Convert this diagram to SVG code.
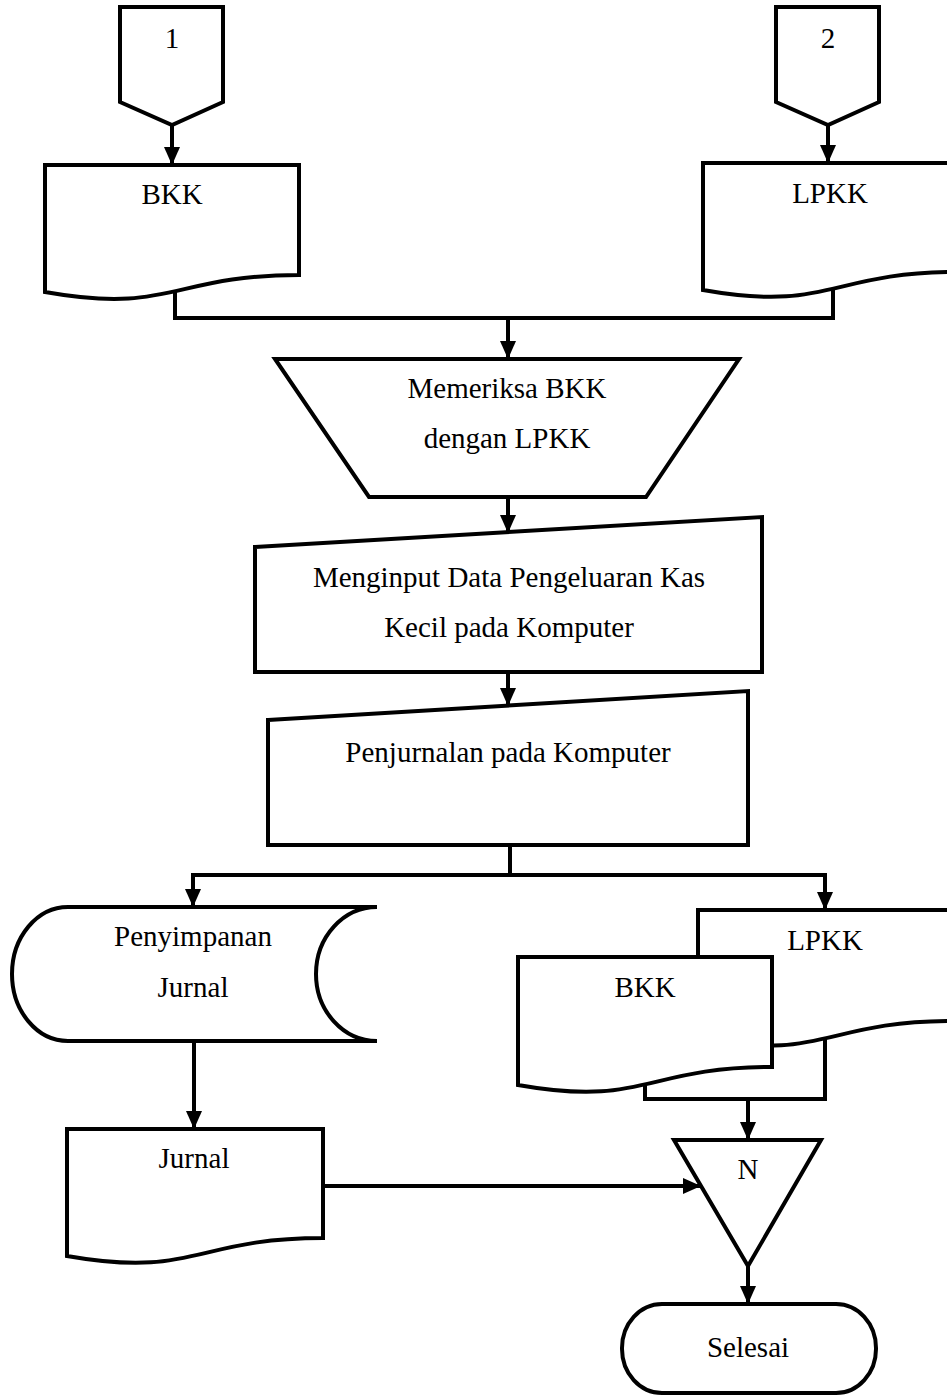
<svg xmlns="http://www.w3.org/2000/svg" width="947" height="1395" viewBox="0 0 947 1395">
  <style>
    .shape { fill: #ffffff; stroke: #000000; stroke-width: 4; stroke-linejoin: miter; }
    .line { fill: none; stroke: #000000; stroke-width: 4; }
    .label { font-family: "Liberation Serif", "Times New Roman", serif; font-size: 29px; fill: #000000; text-anchor: middle; }
  </style>
  <defs>
    <marker id="arrow" viewBox="0 0 18 16" refX="18" refY="8" markerWidth="18" markerHeight="16" markerUnits="userSpaceOnUse" orient="auto">
      <path d="M0,0 L18,8 L0,16 Z" fill="#000000"/>
    </marker>
  </defs>
  <rect width="947" height="1395" fill="#ffffff"/>

  <!-- connectors -->
  <g id="connectors">
    <path class="line" d="M172,125 V165" marker-end="url(#arrow)"/>
    <path class="line" d="M828,125 V163" marker-end="url(#arrow)"/>
    <path class="line" d="M175,290 V318 H833 V288"/>
    <path class="line" d="M508,318 V359" marker-end="url(#arrow)"/>
    <path class="line" d="M508,497 V533" marker-end="url(#arrow)"/>
    <path class="line" d="M508,672 V706" marker-end="url(#arrow)"/>
    <path class="line" d="M510,845 V875 H193 V907" marker-end="url(#arrow)"/>
    <path class="line" d="M508,875 H825 V910" marker-end="url(#arrow)"/>
    <path class="line" d="M194,1041 V1129" marker-end="url(#arrow)"/>
    <path class="line" d="M645,1084 V1099 H825 V1038"/>
    <path class="line" d="M748,1099 V1140" marker-end="url(#arrow)"/>
    <path class="line" d="M323,1186 H701" marker-end="url(#arrow)"/>
    <path class="line" d="M748,1266 V1304" marker-end="url(#arrow)"/>
  </g>

  <!-- off-page connector 1 -->
  <g id="offpage-1">
    <polygon class="shape" points="120,7 223,7 223,102 172,125 120,102"/>
    <text class="label" x="172" y="48">1</text>
  </g>

  <!-- off-page connector 2 -->
  <g id="offpage-2">
    <polygon class="shape" points="776,7 879,7 879,102 828,125 776,102"/>
    <text class="label" x="828" y="48">2</text>
  </g>

  <!-- document BKK (input) -->
  <g id="doc-bkk-in">
    <path class="shape" d="M45,165 H299 V275 C172,275 172,314.6 45,292 Z"/>
    <text class="label" x="172" y="204">BKK</text>
  </g>

  <!-- document LPKK (input) -->
  <g id="doc-lpkk-in">
    <path class="shape" d="M703,163 H957 V272 C830,272 830,312.6 703,290 Z"/>
    <text class="label" x="830" y="203">LPKK</text>
  </g>

  <!-- manual operation -->
  <g id="check">
    <polygon class="shape" points="275,359 739,359 646,497 369,497"/>
    <text class="label" x="507" y="398">Memeriksa BKK</text>
    <text class="label" x="507" y="448">dengan LPKK</text>
  </g>

  <!-- manual input: data entry -->
  <g id="input-data">
    <polygon class="shape" points="255,547 762,517 762,672 255,672"/>
    <text class="label" x="509" y="587">Menginput Data Pengeluaran Kas</text>
    <text class="label" x="509" y="637">Kecil pada Komputer</text>
  </g>

  <!-- manual input: journal entry -->
  <g id="input-journal">
    <polygon class="shape" points="268,720 748,691 748,845 268,845"/>
    <text class="label" x="508" y="762">Penjurnalan pada Komputer</text>
  </g>

  <!-- stored data -->
  <g id="storage">
    <path class="shape" d="M377,907 H68 A56,67 0 0 0 68,1041 H377 A61,67 0 0 1 377,907 Z"/>
    <text class="label" x="193" y="946">Penyimpanan</text>
    <text class="label" x="193" y="997">Jurnal</text>
  </g>

  <!-- multiple documents: LPKK behind BKK -->
  <g id="docs-out">
    <path class="shape" d="M698,910 H952 V1021 C825,1021 825,1061.6 698,1039 Z"/>
    <text class="label" x="825" y="950">LPKK</text>
    <path class="shape" d="M518,957 H772 V1067 C645,1067 645,1107.6 518,1085 Z"/>
    <text class="label" x="645" y="997">BKK</text>
  </g>

  <!-- document Jurnal -->
  <g id="doc-jurnal">
    <path class="shape" d="M67,1129 H323 V1238 C195,1238 195,1278.6 67,1256 Z"/>
    <text class="label" x="194" y="1168">Jurnal</text>
  </g>

  <!-- file N -->
  <g id="file-n">
    <polygon class="shape" points="674,1140 821,1140 748,1266"/>
    <text class="label" x="748" y="1179">N</text>
  </g>

  <!-- terminator -->
  <g id="end">
    <rect class="shape" x="622" y="1304" width="254" height="89" rx="40" ry="44"/>
    <text class="label" x="748" y="1357">Selesai</text>
  </g>
</svg>
